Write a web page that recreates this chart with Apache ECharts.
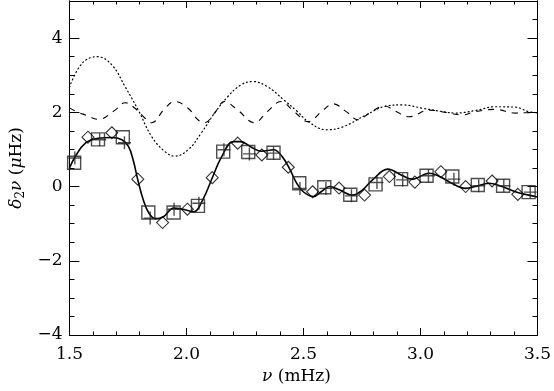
<!DOCTYPE html>
<html>
<head>
<meta charset="utf-8">
<script src="https://cdn.jsdelivr.net/npm/echarts@6/dist/echarts.min.js"></script>
<style>
html,body{margin:0;padding:0;background:#fff;}
#chart{width:554px;height:391px;}
</style>
</head>
<body>
<div id="chart"></div>
<script>
// ---- data (nu in mHz, delta2 nu in microHz) ----
var solidNu  = [1.500,1.525,1.568,1.624,1.681,1.724,1.752,1.772,1.792,1.815,1.840,1.869,1.900,1.946,1.990,2.031,2.070,2.110,2.150,2.200,2.231,2.280,2.320,2.372,2.410,2.443,2.470,2.499,2.542,2.580,2.612,2.650,2.710,2.750,2.795,2.860,2.924,2.966,3.037,3.080,3.122,3.193,3.235,3.292,3.348,3.405,3.490,3.500];
var solidVal = [0.50,0.81,1.17,1.30,1.32,1.26,1.08,0.72,0.18,-0.35,-0.72,-0.87,-0.82,-0.58,-0.62,-0.68,-0.35,0.23,0.80,1.21,1.21,1.05,0.95,0.99,0.80,0.45,0.10,-0.14,-0.27,-0.12,0.00,-0.08,-0.23,-0.10,0.18,0.47,0.29,0.20,0.36,0.28,0.13,-0.05,0.00,0.09,0.00,-0.14,-0.27,-0.28];

var squareNu  = [1.520,1.622,1.728,1.837,1.945,2.049,2.157,2.264,2.372,2.482,2.589,2.700,2.808,2.917,3.026,3.136,3.245,3.353,3.462];
var squareVal = [0.64,1.27,1.33,-0.70,-0.70,-0.52,0.94,0.93,0.91,0.09,-0.02,-0.22,0.06,0.20,0.29,0.27,0.04,0.02,-0.15];

var diamondNu  = [1.579,1.681,1.792,1.898,2.004,2.110,2.219,2.322,2.435,2.539,2.652,2.761,2.867,2.976,3.087,3.193,3.306,3.416];
var diamondVal = [1.33,1.45,0.20,-0.97,-0.61,0.24,1.17,0.85,0.52,-0.14,-0.04,-0.23,0.27,0.12,0.40,0.00,0.15,-0.21];

var plusNu  = [1.523,1.629,1.735,1.845,1.947,2.053,2.160,2.269,2.372,2.485,2.596,2.705,2.814,2.924,3.034,3.143,3.249,3.356,3.469];
var plusVal = [0.77,1.26,1.18,-0.85,-0.61,-0.45,0.99,0.88,0.90,-0.05,-0.05,-0.25,0.11,0.18,0.29,0.20,0.02,0.02,-0.15];

var dotNu  = [1.500,1.554,1.618,1.681,1.738,1.794,1.851,1.908,1.950,2.007,2.063,2.120,2.176,2.233,2.283,2.346,2.417,2.474,2.520,2.598,2.669,2.768,2.853,2.924,3.009,3.094,3.150,3.235,3.320,3.405,3.462,3.500];
var dotVal = [2.68,3.32,3.50,3.28,2.69,2.06,1.35,0.94,0.82,0.99,1.44,1.98,2.42,2.74,2.83,2.69,2.33,2.02,1.75,1.53,1.61,1.93,2.17,2.20,2.11,2.02,1.98,2.05,2.15,2.14,2.02,1.99];

var dashNu  = [1.500,1.530,1.568,1.624,1.695,1.738,1.780,1.823,1.851,1.908,1.950,2.007,2.049,2.077,2.120,2.162,2.219,2.290,2.346,2.403,2.460,2.520,2.584,2.627,2.683,2.733,2.782,2.846,2.896,2.952,3.037,3.122,3.179,3.235,3.320,3.405,3.462,3.500];
var dashVal = [2.12,2.02,1.93,1.81,2.06,2.26,2.11,1.84,1.72,2.11,2.29,2.11,1.80,1.72,1.98,2.29,2.06,1.72,2.02,2.29,2.02,1.75,2.06,2.23,2.02,1.80,1.98,2.17,2.02,1.88,2.06,1.98,1.93,2.02,2.08,1.98,1.99,1.99];

var xMin = 1.5, xMax = 3.5, xStep = 0.5;
var yMin = -4, yMax = 5, yStep = 2, yMinorStep = 0.5;

function pairs(a, b) { return a.map(function (v, i) { return [v, b[i]]; }); }

var FONT = 'DejaVu Serif';
var FS = 17;
var ink = '#000';

var chart = echarts.init(document.getElementById('chart'), null, {renderer: 'canvas'});

function yAx(pos, step, len, labels) {
  return {
    type: 'value', position: pos, min: yMin, max: yMax, interval: step,
    axisLine: {show: true, onZero: false, lineStyle: {color: ink, width: 1}},
    axisTick: {show: true, inside: true, length: len, lineStyle: {color: ink, width: 1}},
    splitLine: {show: false},
    axisLabel: labels ? {
      show: true, margin: 7, color: ink, fontFamily: FONT, fontSize: FS, fontWeight: 'normal',
      showMaxLabel: false,
      formatter: function (v) { return v < 0 ? '\u2212' + Math.abs(v) : String(v); }
    } : {show: false}
  };
}

var option = {
  backgroundColor: '#fff',
  animation: false,
  textStyle: {fontFamily: FONT},
  grid: {left: 68, right: 15, top: 1, bottom: 56, containLabel: false},
  xAxis: [
    {
      type: 'value', position: 'bottom', min: xMin, max: xMax, interval: xStep,
      axisLine: {show: true, onZero: false, lineStyle: {color: ink, width: 1}},
      axisTick: {show: true, inside: true, length: 7, lineStyle: {color: ink}},
      minorTick: {show: true, splitNumber: 5, length: 3.5, lineStyle: {color: ink}},
      splitLine: {show: false},
      axisLabel: {margin: 11, color: ink, fontFamily: FONT, fontSize: FS,
        formatter: function (v) { return v.toFixed(1); }},
      name: '{i|\u03bd} {n|(mHz)}', nameLocation: 'middle', nameGap: 27,
      nameTextStyle: {color: ink, fontFamily: FONT, fontSize: FS, padding: [0, 14, 0, 0],
        rich: {
          i: {fontFamily: FONT, fontStyle: 'italic', fontSize: FS, color: ink},
          n: {fontFamily: FONT, fontSize: FS, color: ink}
        }}
    },
    {
      type: 'value', position: 'top', min: xMin, max: xMax, interval: xStep,
      axisLine: {show: true, onZero: false, lineStyle: {color: ink, width: 1}},
      axisTick: {show: true, inside: true, length: 7, lineStyle: {color: ink}},
      minorTick: {show: true, splitNumber: 5, length: 3.5, lineStyle: {color: ink}},
      splitLine: {show: false}, axisLabel: {show: false}
    }
  ],
  yAxis: [
    Object.assign(yAx('left', yStep, 10, true), {
      name: '{i|\u03b4}{s|2}{i|\u03bd} {n|(}{i|\u03bc}{n|Hz)}', nameLocation: 'middle', nameGap: 38,
      nameTextStyle: {color: ink, fontFamily: FONT, fontSize: FS,
        rich: {
          i: {fontFamily: FONT, fontStyle: 'italic', fontSize: FS, color: ink},
          n: {fontFamily: FONT, fontSize: FS, color: ink},
          s: {fontFamily: FONT, fontSize: 12, color: ink, verticalAlign: 'bottom', padding: [8, 0, 0, 0]}
        }}
    }),
    yAx('left', yMinorStep, 5, false),
    yAx('right', yStep, 10, false),
    yAx('right', yMinorStep, 5, false)
  ],
  series: [
    {
      type: 'line', data: pairs(dotNu, dotVal), smooth: 0.4, symbol: 'none',
      lineStyle: {color: ink, width: 1.2, type: [1, 3], cap: 'round'}, z: 2
    },
    {
      type: 'line', data: pairs(dashNu, dashVal), smooth: 0.4, symbol: 'none',
      lineStyle: {color: ink, width: 1.1, type: [6, 6]}, z: 2
    },
    {
      type: 'line', data: pairs(solidNu, solidVal), smooth: 0.4, symbol: 'none',
      lineStyle: {color: ink, width: 1.6}, z: 3
    },
    {
      type: 'scatter', data: pairs(squareNu, squareVal), symbol: 'rect', symbolSize: 13,
      itemStyle: {color: 'rgba(0,0,0,0)', borderColor: '#222', borderWidth: 1.4}, z: 4
    },
    {
      type: 'scatter', data: pairs(diamondNu, diamondVal), symbol: 'diamond', symbolSize: 12,
      itemStyle: {color: 'rgba(0,0,0,0)', borderColor: '#000', borderWidth: 1.1}, z: 4
    },
    {
      type: 'scatter', data: pairs(plusNu, plusVal), symbol: 'path://M0,5H10M5,0V10', symbolSize: 13,
      itemStyle: {color: 'rgba(0,0,0,0)', borderColor: '#222', borderWidth: 1.4}, z: 4
    }
  ]
};
chart.setOption(option);
</script>
</body>
</html>
